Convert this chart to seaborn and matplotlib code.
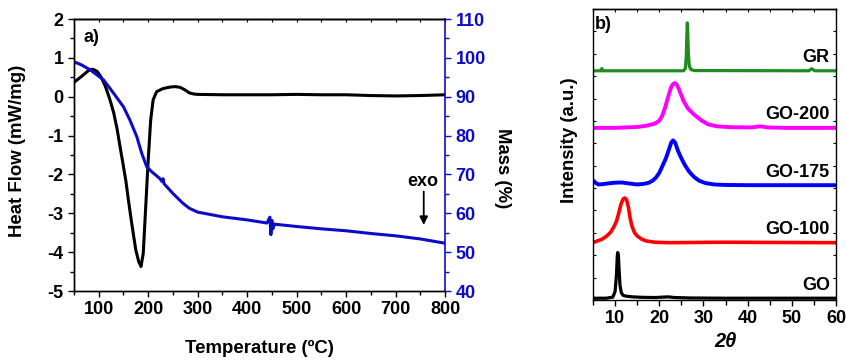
import numpy as np
import pandas as pd
import matplotlib
matplotlib.use("Agg")
import matplotlib.pyplot as plt
from matplotlib.ticker import MultipleLocator
import seaborn as sns

# ---------------- data: panel a (DSC / TGA) ----------------
dsc_temp = [50, 65, 80, 88, 97, 105, 113, 122, 130, 137, 143, 149, 155, 160, 166, 171,
            175, 181, 185.5, 190, 195, 200, 205, 210, 217, 230, 245, 255, 265, 275, 283,
            292, 300, 350, 400, 450, 500, 550, 600, 650, 700, 750, 800]
dsc_flow = [0.37, 0.52, 0.68, 0.71, 0.65, 0.50, 0.28, -0.05, -0.40, -0.82, -1.28, -1.72,
            -2.18, -2.66, -3.20, -3.62, -3.95, -4.25, -4.37, -4.03, -2.83, -1.63, -0.60,
            -0.08, 0.13, 0.21, 0.25, 0.26, 0.24, 0.17, 0.10, 0.07, 0.06, 0.05, 0.05,
            0.05, 0.06, 0.05, 0.05, 0.03, 0.02, 0.03, 0.05]

tga_temp = [50, 65, 83, 110, 130, 150, 163, 177, 187, 197, 207, 223, 228, 230, 232,
            250, 270, 283, 300, 350, 400, 440, 446, 448, 450, 452, 455, 500, 550,
            600, 650, 700, 750, 800]
tga_mass = [99.0, 98.2, 96.9, 94.3, 90.9, 87.4, 84.0, 79.7, 75.4, 72.0, 70.7, 69.0,
            68.2, 68.9, 67.6, 65.1, 62.6, 61.3, 60.3, 59.1, 58.3, 57.5, 59.0, 54.5,
            58.2, 56.0, 57.2, 56.6, 56.0, 55.5, 54.8, 54.2, 53.4, 52.3]

# ---------------- data: panel b (XRD) ----------------
samples = ["GO", "GO-100", "GO-175", "GO-200", "GR"]
offsets = [0.08, 2.56, 5.13, 7.69, 10.24]
colors_b = ["#000000", "#FF0000", "#0000FF", "#FF00FF", "#1E8C1E"]

go_x = [5, 8, 9.5, 10.0, 10.3, 10.5, 10.6, 10.75, 10.9, 11.1, 11.4, 11.8, 12.5, 14, 16,
        19, 21, 22, 23.5, 27, 35, 60]
go_y = [0.0, 0.0, 0.05, 0.3, 1.0, 1.9, 2.04, 1.9, 1.3, 0.6, 0.25, 0.13, 0.09, 0.06,
        0.04, 0.03, 0.05, 0.06, 0.03, 0.01, 0.0, 0.0]

go100_x = [5, 6, 7, 8, 9, 9.7, 10.3, 10.8, 11.3, 11.8, 12.2, 12.6, 13.0, 13.4, 13.8,
           14.4, 15, 16, 17, 19, 22, 34, 60]
go100_y = [0.0, 0.08, 0.15, 0.28, 0.47, 0.7, 0.95, 1.3, 1.7, 1.95, 2.0, 1.92, 1.6, 1.1,
           0.75, 0.45, 0.3, 0.16, 0.08, 0.02, 0.0, 0.02, 0.0]

go175_x = [5, 5.5, 6.2, 7, 8.5, 10, 11.5, 13, 15, 16.5, 17.5, 18.5, 19.3, 20, 20.7,
           21.5, 22.2, 22.7, 23.1, 23.6, 24.2, 25, 25.8, 26.7, 27.8, 29, 30.5, 32.5,
           35, 40, 60]
go175_y = [0.22, 0.12, 0.03, 0.04, 0.08, 0.11, 0.12, 0.08, 0.03, 0.06, 0.1, 0.2, 0.35,
           0.55, 0.85, 1.2, 1.6, 1.9, 2.0, 1.9, 1.55, 1.2, 0.9, 0.62, 0.38, 0.2, 0.09,
           0.03, 0.01, 0.0, 0.0]

go200_x = [5, 10, 15, 17, 19, 20, 20.7, 21.3, 22, 22.7, 23.2, 23.5, 23.9, 24.4, 25.0,
           25.5, 26.5, 28.0, 29.5, 31, 33, 36, 41, 42.8, 44.5, 48, 60]
go200_y = [0.0, 0.0, 0.04, 0.09, 0.19, 0.32, 0.55, 0.9, 1.38, 1.83, 1.97, 2.0, 1.95,
           1.75, 1.45, 1.2, 0.86, 0.57, 0.34, 0.16, 0.07, 0.03, 0.02, 0.07, 0.02, 0.0,
           0.0]

gr_x = [5, 6.8, 7.0, 7.2, 25.5, 25.9, 26.1, 26.25, 26.35, 26.45, 26.6, 26.8, 27.2, 28,
        53.8, 54.5, 55.2, 60]
gr_y = [0.0, 0.0, 0.1, 0.0, 0.0, 0.1, 0.6, 1.6, 2.14, 1.7, 0.7, 0.2, 0.05, 0.01, 0.0,
        0.09, 0.0, 0.0]

xrd_x = [go_x, go100_x, go175_x, go200_x, gr_x]
xrd_y = [go_y, go100_y, go175_y, go200_y, gr_y]

# ---------------- style ----------------
sns.set_theme(style="ticks", rc={
    "text.color": "black", "axes.labelcolor": "black", "axes.edgecolor": "black",
    "xtick.color": "black", "ytick.color": "black",
})
plt.rcParams["font.family"] = ["Liberation Sans", "DejaVu Sans"]
plt.rcParams["font.weight"] = "bold"
plt.rcParams["axes.labelweight"] = "bold"
plt.rcParams["axes.linewidth"] = 1.0
plt.rcParams["axes.unicode_minus"] = False
FS = 13        # tick labels
LFS = 13.4     # axis labels

BLUE = "#0C0CC8"

fig = plt.figure(figsize=(8.46, 3.6), dpi=100)

# ================= panel a =================
ax = fig.add_axes([74 / 846, (360 - 291) / 360, 371 / 846, 272 / 360])
df_dsc = pd.DataFrame({"T": dsc_temp, "HF": dsc_flow})
sns.lineplot(data=df_dsc, x="T", y="HF", ax=ax, color="black", lw=2.2,
             sort=False, estimator=None)
ax.set_xlim(50, 800)
ax.set_ylim(-5, 2)
ax.xaxis.set_major_locator(MultipleLocator(100))
ax.xaxis.set_minor_locator(MultipleLocator(50))
ax.yaxis.set_major_locator(MultipleLocator(1))
ax.yaxis.set_minor_locator(MultipleLocator(0.5))
ax.set_xticks([100, 200, 300, 400, 500, 600, 700, 800])
ax.tick_params(axis="both", which="major", direction="out", length=4.5, width=1.0,
               labelsize=FS, pad=3, colors="black")
ax.tick_params(axis="both", which="minor", direction="out", length=2.8, width=1.0)
for lab in ax.get_xticklabels() + ax.get_yticklabels():
    lab.set_fontweight("bold")
ax.spines["right"].set_visible(False)
ax.set_xlabel("Temperature (ºC)", fontsize=LFS, fontweight="bold", va="center")
ax.xaxis.set_label_coords(0.5, (291 - 348) / 272)
ax.set_ylabel("Heat Flow (mW/mg)", fontsize=LFS, fontweight="bold", va="center")
ax.yaxis.set_label_coords((18 - 74) / 371, (291 - 151) / 272)

top_a = ax.secondary_xaxis("top")
top_a.xaxis.set_major_locator(MultipleLocator(50))
top_a.tick_params(direction="in", length=2.5, width=0.8, labeltop=False)

ax2 = ax.twinx()
df_tga = pd.DataFrame({"T": tga_temp, "Mass": tga_mass})
sns.lineplot(data=df_tga, x="T", y="Mass", ax=ax2, color=BLUE, lw=2.2,
             sort=False, estimator=None)
ax2.set_ylim(40, 110)
ax2.yaxis.set_major_locator(MultipleLocator(10))
ax2.yaxis.set_minor_locator(MultipleLocator(5))
ax2.tick_params(axis="y", which="major", direction="out", length=4.5, width=1.0,
                labelsize=FS, pad=3, colors=BLUE)
ax2.tick_params(axis="y", which="minor", direction="out", length=2.8, width=1.0,
                colors=BLUE)
for lab in ax2.get_yticklabels():
    lab.set_fontweight("bold")
ax2.spines["right"].set_color(BLUE)
ax2.spines["right"].set_linewidth(1.2)
ax2.set_ylabel("Mass (%)", fontsize=LFS, fontweight="bold", rotation=270,
               va="center", color="black")
ax2.yaxis.set_label_coords((502 - 74) / 371, (291 - 168) / 272)
ax2.set_xlabel("")

ax.text(0.025, 0.965, "a)", transform=ax.transAxes, fontsize=FS,
        fontweight="bold", ha="left", va="top")
ax.annotate("", xy=(757, -3.30), xytext=(757, -2.44),
            arrowprops=dict(arrowstyle="-|>", color="black", lw=1.3,
                            mutation_scale=12, shrinkA=0, shrinkB=0))
ax.text(755, -2.29, "exo", fontsize=FS, fontweight="bold", ha="center",
        va="baseline")

# ================= panel b =================
bx = fig.add_axes([593 / 846, (360 - 300) / 360, 243 / 846, 291 / 360])
line_w = [2.3, 2.6, 2.8, 2.8, 2.3]
for name, off, col, xs, ys, lw in zip(samples, offsets, colors_b, xrd_x, xrd_y, line_w):
    d = pd.DataFrame({"2theta": xs, "I": np.array(ys) + off})
    sns.lineplot(data=d, x="2theta", y="I", ax=bx, color=col, lw=lw,
                 sort=False, estimator=None)
    bx.text(58.6, off + 0.58, name, fontsize=FS, fontweight="bold",
            ha="right", va="center")
bx.set_xlim(5, 60)
bx.set_ylim(0, 13)
bx.set_xticks([10, 20, 30, 40, 50, 60])
bx.xaxis.set_minor_locator(MultipleLocator(5))
bx.yaxis.set_major_locator(MultipleLocator(1))
bx.tick_params(axis="x", which="major", direction="out", length=4.5, width=1.0,
               labelsize=FS, pad=3)
bx.tick_params(axis="x", which="minor", direction="out", length=3.5, width=1.0)
bx.tick_params(axis="y", which="major", direction="in", length=2.5, width=0.8,
               left=True, right=True, labelleft=False)
for lab in bx.get_xticklabels():
    lab.set_fontweight("bold")
top_b = bx.secondary_xaxis("top")
top_b.xaxis.set_major_locator(MultipleLocator(5))
top_b.tick_params(direction="in", length=2.5, width=0.8, labeltop=False)

bx.set_xlabel("2θ", fontsize=LFS + 1, fontweight="bold", fontstyle="italic",
              va="center")
bx.xaxis.set_label_coords(0.543, (300 - 341.7) / 291)
bx.set_ylabel("Intensity (a.u.)", fontsize=LFS, fontweight="bold", va="center")
bx.yaxis.set_label_coords((570 - 593) / 243, 0.55)
bx.text(0.008, 0.975, "b)", transform=bx.transAxes, fontsize=FS,
        fontweight="bold", ha="left", va="top")

fig.savefig("out.png", dpi=100)
